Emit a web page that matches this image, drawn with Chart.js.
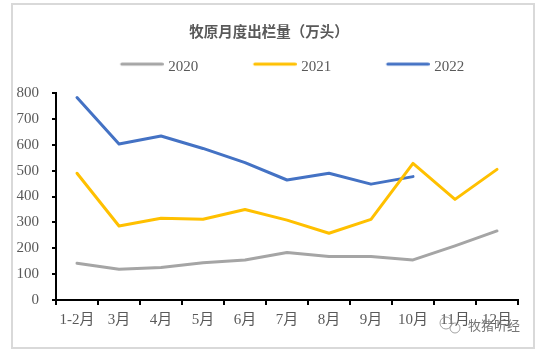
<!DOCTYPE html>
<html>
<head>
<meta charset="utf-8">
<script src="https://cdn.jsdelivr.net/npm/chart.js@4/dist/chart.umd.min.js"></script>
<style>
  html, body { margin: 0; padding: 0; background: #ffffff; }
  #wrap { position: relative; width: 538px; height: 351px; }
  #frame { position: absolute; left: 11px; top: 3px; width: 524px; height: 346px; box-sizing: border-box; border: 2px solid #d9d9d9; pointer-events: none; }
  canvas { position: absolute; left: 0; top: 0; }
</style>
</head>
<body>
<div id="wrap">
  <canvas id="c" width="538" height="351"></canvas>
  <div id="frame"></div>
</div>
<script>
const chartTitle = '牧原月度出栏量（万头）';
const categories = ['1-2月', '3月', '4月', '5月', '6月', '7月', '8月', '9月', '10月', '11月', '12月'];
const seriesNames = ['2020', '2021', '2022'];
const values2020 = [142, 119, 126, 144, 155, 184, 168, 168, 155, 209, 267];
const values2021 = [490, 286, 316, 312, 350, 309, 258, 312, 528, 389, 505];
const values2022 = [783, 603, 634, 586, 531, 464, 490, 448, 477, null, null];
const yTicks = [0, 100, 200, 300, 400, 500, 600, 700, 800];
const watermark = '牧猪听经';

const colors = ['#A5A5A5', '#FFC000', '#4472C4'];
const serif = "'Liberation Serif', 'Times New Roman', 'Noto Sans CJK SC', serif";
const textColor = '#595959';

function legendImage(color) {
  const c = document.createElement('canvas');
  c.width = 93; c.height = 15;
  const g = c.getContext('2d');
  g.strokeStyle = color;
  g.lineWidth = 3;
  g.lineCap = 'round';
  g.beginPath();
  g.moveTo(51, 5);
  g.lineTo(91.5, 5);
  g.stroke();
  return c;
}
const legendImgs = colors.map(legendImage);

const layoutTweaks = {
  id: 'layoutTweaks',
  beforeLayout(chart) {
    const lg = chart.legend;
    if (lg && !lg._gapWrapped) {
      const f = lg.fit;
      lg.fit = function () { f.call(this); this.height += 9; };
      lg._gapWrapped = true;
    }
  },
  afterLayout(chart) {
    // title and legend are centred on the whole frame, not on the padded area
    if (chart.titleBlock) chart.titleBlock.left = 20;
    if (chart.legend) chart.legend.left = 20;
  }
};

const watermarkPlugin = {
  id: 'watermark',
  afterDraw(chart) {
    const ctx = chart.ctx;
    ctx.save();
    ctx.strokeStyle = 'rgba(140,140,140,0.8)';
    ctx.lineWidth = 1;
    ctx.beginPath(); ctx.arc(446, 323, 6, 0, Math.PI * 2); ctx.stroke();
    ctx.beginPath(); ctx.arc(455, 328, 5, 0, Math.PI * 2); ctx.stroke();
    ctx.fillStyle = 'rgba(110,110,110,0.95)';
    ctx.font = "13px 'Noto Sans CJK SC'";
    ctx.textBaseline = 'middle';
    ctx.textAlign = 'left';
    ctx.fillText(watermark, 468, 325);
    ctx.restore();
  }
};

const datasets = [values2020, values2021, values2022].map((d, i) => ({
  label: seriesNames[i],
  data: d,
  borderColor: colors[i],
  backgroundColor: colors[i],
  borderWidth: 3,
  pointRadius: 0,
  pointHoverRadius: 0,
  tension: 0,
  borderJoinStyle: 'round',
  borderCapStyle: 'round',
  fill: false,
  spanGaps: false
}));

new Chart(document.getElementById('c'), {
  type: 'line',
  data: { labels: categories, datasets },
  options: {
    responsive: false,
    animation: false,
    layout: { padding: { top: 0, left: 0, right: 20, bottom: 0 } },
    plugins: {
      title: {
        display: true,
        text: chartTitle,
        color: textColor,
        font: { family: "'Noto Sans CJK SC', sans-serif", size: 14.5, weight: 'bold' },
        padding: { top: 23, bottom: 10.2 }
      },
      legend: {
        display: true,
        position: 'top',
        align: 'center',
        labels: {
          usePointStyle: true,
          pointStyleWidth: 87,
          padding: 8.5,
          color: textColor,
          font: { family: serif, size: 15 },
          generateLabels(chart) {
            const items = Chart.defaults.plugins.legend.labels.generateLabels(chart);
            items.forEach((it) => { it.pointStyle = legendImgs[it.datasetIndex]; });
            return items;
          }
        }
      },
      tooltip: { enabled: false }
    },
    scales: {
      x: {
        type: 'category',
        offset: true,
        grid: { display: true, drawOnChartArea: false, drawTicks: true, tickLength: 5, color: '#000000', lineWidth: 2, offset: true },
        border: { display: true, color: '#000000', width: 2 },
        ticks: { color: textColor, font: { family: serif, size: 15 }, padding: 6, maxRotation: 0, autoSkip: false },
        afterFit(s) { s.height = 51; }
      },
      y: {
        min: yTicks[0],
        max: yTicks[yTicks.length - 1],
        afterBuildTicks(s) { s.ticks = yTicks.map(v => ({ value: v })); },
        grid: { display: true, drawOnChartArea: false, drawTicks: true, tickLength: 4, color: '#000000', lineWidth: 2 },
        border: { display: true, color: '#000000', width: 2 },
        ticks: { color: textColor, font: { family: serif, size: 15 }, padding: 13 },
        afterFit(s) { s.width = 56; }
      }
    }
  },
  plugins: [layoutTweaks, watermarkPlugin]
});
</script>
</body>
</html>
